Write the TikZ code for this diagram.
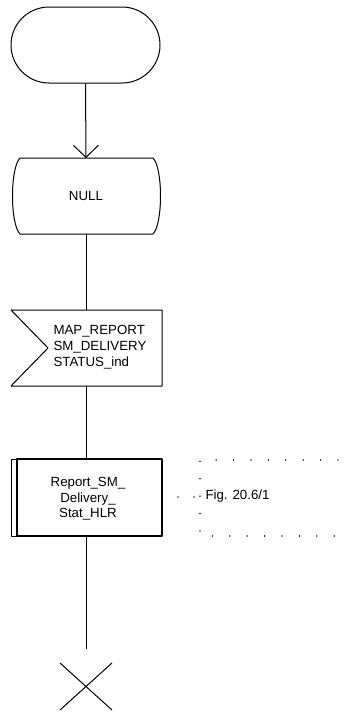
\documentclass[tikz,border=0pt]{standalone}
\usepackage{fontspec}
\setmainfont{Liberation Sans}
\usetikzlibrary{arrows.meta,shapes.misc}
\begin{document}
\begin{tikzpicture}[x=1pt,y=-1pt,line width=1pt,line join=round,
  lbl/.style={font=\fontsize{13.3}{16}\selectfont,inner sep=0pt},
  dotline/.style={line width=1.3pt,line cap=round,dash pattern=on 0.01pt off 17.4pt},
  flow/.style={line width=1pt}]
\useasboundingbox (0,0) rectangle (347,713);
% start
\node[draw,rounded rectangle,minimum width=149pt,minimum height=76pt,inner sep=0pt] (start) at (85.5,45) {};
% state NULL
\draw (20,158) -- (153,158) .. controls (163,168) and (163,224) .. (153,234) -- (20,234) .. controls (10,224) and (10,168) .. (20,158) -- cycle;
\node[lbl] (null) at (86,196) {NULL};
\coordinate (nullT) at (86,158);
\coordinate (nullB) at (86,234);
% input signal
\draw (11,310) -- (162,310) -- (162,386) -- (11,386) -- (48,348) -- cycle;
\node[lbl,anchor=west,align=left] (sig) at (53,347) {MAP\_REPORT\\SM\_DELIVERY\\STATUS\_ind};
\coordinate (sigT) at (86,310);
\coordinate (sigB) at (86,386);
% procedure
\draw[line width=1.7pt] (17,459) rectangle (162,536);
\draw (17,459) -- (11,459) -- (11,536) -- (17,536);
\node[lbl,align=center,font=\fontsize{13.3}{15.5}\selectfont] (proc) at (88,499) {Report\_SM\_\\Delivery\_\\Stat\_HLR};
\coordinate (procT) at (86,459);
\coordinate (procB) at (86,536);
\coordinate (procR) at (162,497);
% stop
\coordinate (stopT) at (86,649);
\coordinate (stopC) at (86,686.5);
\draw (60,663) -- (112,710);
\draw (112,663) -- (60,710);
% connectors
\draw[flow,-{Straight Barb[length=12pt,width=25pt,line width=1pt]}] (start.south) -- (nullT);
\draw[flow] (nullB) -- (sigT);
\draw[flow] (sigB) -- (procT);
\draw[flow] (procB) -- (stopT);
% comment
\coordinate (brk) at (200,497);
\draw[line width=1.3pt,line cap=round,dash pattern=on 0.01pt off 16pt] (procR) -- (brk);
\draw[dotline] (338,460) -- (200,460) -- (200,536) -- (338,536);
\node[lbl,anchor=west] (fig) at (205,496) {Fig. 20.6/1};
\end{tikzpicture}
\end{document}
